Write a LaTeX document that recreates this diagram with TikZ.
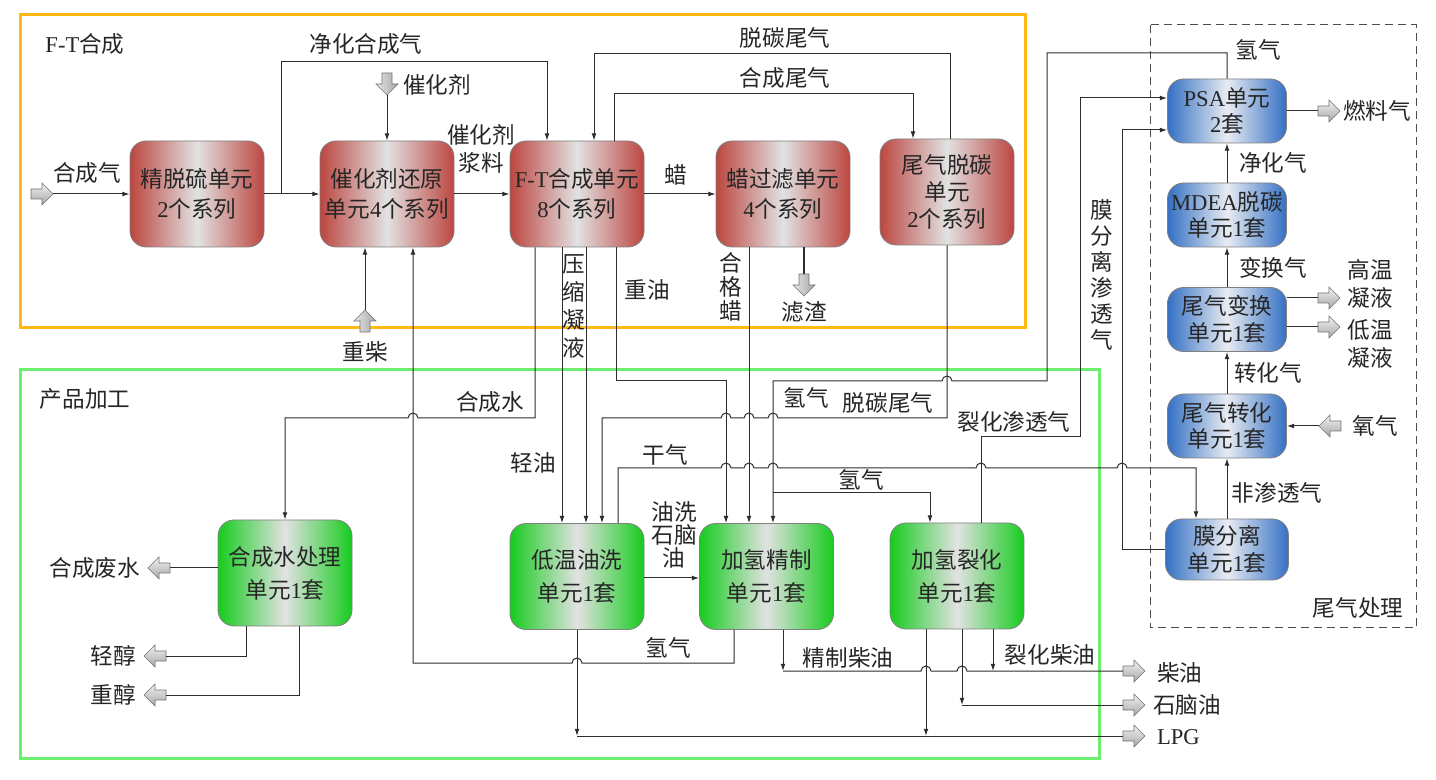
\documentclass[tikz,border=0pt]{standalone}
\usepackage{fontspec}
\setmainfont{Noto Sans CJK SC}
\newfontfamily\latfont{Liberation Serif}
\newcommand\rmlat[1]{{\latfont #1}}
\newcommand\mylab{\fontsize{11.3}{14}\selectfont}
\newcommand\myred{\fontsize{11.3}{15}\selectfont}
\newcommand\mygreen{\fontsize{11.3}{16.5}\selectfont}
\newcommand\myblue{\fontsize{11.3}{13.2}\selectfont}
\newcommand\mywtc{\fontsize{11.3}{13.5}\selectfont}
\newcommand\myvA{\fontsize{11.3}{14}\selectfont}
\newcommand\myvB{\fontsize{11.3}{12}\selectfont}
\newcommand\myvC{\fontsize{11.3}{13}\selectfont}
\newcommand\myvD{\fontsize{11.3}{11.5}\selectfont}
\usetikzlibrary{arrows.meta}
\definecolor{ftred}{RGB}{188,70,64}
\definecolor{ftgreen}{RGB}{22,204,30}
\definecolor{ftblue}{RGB}{52,112,196}
\definecolor{midgray}{RGB}{226,226,226}
\definecolor{bluemid}{RGB}{232,236,242}
\definecolor{frameorange}{RGB}{255,184,20}
\definecolor{framegreen}{RGB}{110,238,110}
\definecolor{linegray}{RGB}{45,45,45}
\begin{document}
\begin{tikzpicture}[x=0.5pt,y=-0.5pt,
  every node/.style={font=\mylab, text=black!85},
  ln/.style={draw=linegray, line width=0.5pt},
  arr/.style={ln, -{Latex[length=3.6pt,width=2.4pt]}},
  box/.style={rounded corners=8pt, draw=black!50, line width=0.4pt, align=center, inner sep=0pt},
  redbox/.style={box, left color=ftred, right color=ftred, middle color=midgray, minimum width=67pt, minimum height=53pt, font=\myred},
  greenbox/.style={box, left color=ftgreen, right color=ftgreen, middle color=midgray, minimum width=67pt, minimum height=53pt, font=\mygreen},
  bluebox/.style={box, left color=ftblue, right color=ftblue, middle color=bluemid, minimum width=59.5pt, minimum height=32pt, font=\myblue},
  fatdraw/.style={draw=black!55, line width=0.3pt},
  fatR/.pic={\shadedraw[fatdraw, top color=gray!10, bottom color=gray!70] (-11,-5) -- (0,-5) -- (0,-11) -- (11,0) -- (0,11) -- (0,5) -- (-11,5) -- cycle;},
  fatL/.pic={\shadedraw[fatdraw, top color=gray!10, bottom color=gray!70] (11,-5) -- (0,-5) -- (0,-11) -- (-11,0) -- (0,11) -- (0,5) -- (11,5) -- cycle;},
  fatD/.pic={\shadedraw[fatdraw, left color=gray!20, right color=gray!70] (-5,-11) -- (5,-11) -- (5,0) -- (11,0) -- (0,11) -- (-11,0) -- (-5,0) -- cycle;},
  fatU/.pic={\shadedraw[fatdraw, left color=gray!20, right color=gray!70] (-5,11) -- (5,11) -- (5,0) -- (11,0) -- (0,-11) -- (-11,0) -- (-5,0) -- cycle;}
]
\useasboundingbox (0,0) rectangle (1436,780);
\fill[white] (0,0) rectangle (1436,780);

% frames
\draw[draw=frameorange, line width=1.5pt] (20,15) rectangle (1025,328);
\draw[draw=framegreen, line width=1.5pt] (20,370) rectangle (1099,758);
\draw[draw=black!70, line width=0.5pt, dash pattern=on 4pt off 2.5pt] (1150,25) rectangle (1416,628);

% units
\node[redbox] (jtl) at (197,194) {精脱硫单元\\\rmlat{2}个系列};
\node[redbox] (chr) at (387,194) {催化剂还原\\单元\rmlat{4}个系列};
\node[redbox] (ftu) at (577,194) {\rmlat{F-T}合成单元\\\rmlat{8}个系列};
\node[redbox] (lgl) at (783,194) {蜡过滤单元\\\rmlat{4}个系列};
\node[redbox, font=\mywtc] (wtc) at (947,192) {尾气脱碳\\单元\\\rmlat{2}个系列};
\node[bluebox] (psa) at (1227,111) {\rmlat{PSA}单元\\\rmlat{2}套};
\node[bluebox] (mdea) at (1227,215) {\rmlat{MDEA}脱碳\\单元\rmlat{1}套};
\node[bluebox] (wbh) at (1227,319.5) {尾气变换\\单元\rmlat{1}套};
\node[bluebox] (wzh) at (1227,426) {尾气转化\\单元\rmlat{1}套};
\node[bluebox, minimum width=61.5pt, minimum height=30.5pt] (mfl) at (1227,549.5) {膜分离\\单元\rmlat{1}套};
\node[greenbox] (hcs) at (285,573) {合成水处理\\单元\rmlat{1}套};
\node[greenbox] (dwy) at (577,576.5) {低温油洗\\单元\rmlat{1}套};
\node[greenbox] (jqj) at (766.5,576.5) {加氢精制\\单元\rmlat{1}套};
\node[greenbox] (jql) at (957,576) {加氢裂化\\单元\rmlat{1}套};

% fat arrows and their ends
\pic at (42,194) {fatR};      \coordinate (sgin) at (53,194);
\pic at (387,84) {fatD};      \coordinate (catin) at (387,95);
\pic at (804,285) {fatD};     \coordinate (lzin) at (804,274);
\pic at (365,321) {fatU};     \coordinate (zcin) at (365,310);
\pic at (159,568) {fatL};     \coordinate (fswt) at (170,568);
\pic at (155,656) {fatL};     \coordinate (qcht) at (166,656);
\pic at (155,695) {fatL};     \coordinate (zcht) at (166,695);
\pic at (1134,671) {fatR};    \coordinate (cyR) at (1123,671);
\pic at (1134,705) {fatR};    \coordinate (snR) at (1123,705);
\pic at (1134,736) {fatR};    \coordinate (lpgR) at (1123,736);
\pic at (1329,111) {fatR};    \coordinate (rlqt) at (1318,111);
\pic at (1329,298) {fatR};    \coordinate (gwt) at (1318,298);
\pic at (1329,327) {fatR};    \coordinate (dwt) at (1318,327);
\pic at (1330,426) {fatL};    \coordinate (o2t) at (1319,426);

% F-T section connectors
\coordinate (jh) at (281,194);
\draw[arr] (sgin) -- (jtl.west);
\draw[arr] (jtl.east) -- (chr.west);
\draw[arr] (jh) |- (547,62) -- (ftu.north -| 547,0);
\draw[arr] (catin) -- (chr.north);
\draw[arr] (chr.east) -- (ftu.west);
\draw[arr] (ftu.east) -- (lgl.west);
\draw[arr] (wtc.north -| 950,0) |- (594,54) -- (ftu.north -| 594,0);
\draw[arr] (ftu.north -| 614,0) |- (913,94) -- (wtc.north -| 913,0);
\draw[draw=linegray, line width=1pt] (lgl.south -| 804,0) -- (lzin);
\draw[arr] (zcin) -- (chr.south -| 365,0);

% synthesis water
\draw[arr] (ftu.south -| 535,0) -- (535,418) -- (418,418) arc[start angle=0,end angle=-180,radius=5] -- (hcs.north |- 0,418) -- (hcs.north);
\draw[ln] (hcs.west |- 0,568) -- (fswt);
\draw[ln] (hcs.south -| 246,0) |- (qcht);
\draw[ln] (hcs.south -| 299,0) |- (zcht);

% hydrogen back to catalyst reduction
\draw[arr] (jqj.south -| 734,0) -- (734,663) -- (582,663) arc[start angle=0,end angle=-180,radius=5] -- (413,663) -- (chr.south -| 413,0);

% light oil, condensate, heavy oil, wax
\draw[arr] (ftu.south -| 562,0) -- (dwy.north -| 562,0);
\draw[arr] (ftu.south -| 586,0) -- (dwy.north -| 586,0);
\draw[arr] (ftu.south -| 616,0) |- (726,381) -- (jqj.north -| 726,0);
\draw[arr] (lgl.south -| 749,0) -- (jqj.north -| 749,0);

% hydrogen from PSA
\coordinate (h2br) at (773,493);
\draw[arr] (psa.north) |- (1047,53) -- (1047,381) -- (952,381) arc[start angle=0,end angle=-180,radius=5] -- (773,381) -- (jqj.north -| 773,0);
\draw[arr] (h2br) -| (jql.north -| 930,0);

% decarbonized tail gas to oil wash
\draw[arr] (wtc.south -| 947,0) -- (947,418) -- (778,418) arc[start angle=0,end angle=-180,radius=5] -- (754,418) arc[start angle=0,end angle=-180,radius=5] -- (731,418) arc[start angle=0,end angle=-180,radius=5] -- (602,418) -- (dwy.north -| 602,0);

% dry gas to membrane
\draw[arr] (dwy.north -| 618,0) -- (618,468) -- (721,468) arc[start angle=180,end angle=360,radius=5] -- (744,468) arc[start angle=180,end angle=360,radius=5] -- (768,468) arc[start angle=180,end angle=360,radius=5] -- (976,468) arc[start angle=180,end angle=360,radius=5] -- (1117,468) arc[start angle=180,end angle=360,radius=5] -- (1196,468) -- (mfl.north -| 1196,0);

% permeate gases to PSA
\draw[arr] (jql.north -| 981,0) -- (981,437) -- (1080,437) -- (1080,98) -- (psa.west |- 0,98);
\draw[arr] (mfl.west) -| (1122,130) -- (psa.west |- 0,130);

% oil wash naphtha
\draw[arr] (dwy.east |- 0,578) -- (jqj.west |- 0,578);

% products
\coordinate (lpgL) at (577,736);
\coordinate (snL) at (962,705);
\coordinate (cyL) at (783,671);
\draw[arr] (dwy.south) -- (lpgL);
\draw[ln] (lpgL) -- (lpgR);
\draw[arr] (jql.south -| 926,0) -- (926,736);
\draw[arr] (jql.south -| 962,0) -- (snL);
\draw[ln] (snL) -- (snR);
\draw[arr] (jqj.south -| 783,0) -- (cyL);
\draw[ln] (cyL) -- (921,671) arc[start angle=180,end angle=360,radius=5] -- (957,671) arc[start angle=180,end angle=360,radius=5] -- (cyR);
\draw[arr] (jql.south -| 993,0) -- (993,671);

% tail gas treatment
\draw[ln] (psa.east) -- (rlqt);
\draw[arr] (mdea.north) -- (psa.south);
\draw[arr] (wbh.north) -- (mdea.south);
\draw[arr] (wzh.north) -- (wbh.south);
\draw[arr] (mfl.north) -- (wzh.south);
\draw[ln] (wbh.east |- 0,298) -- (gwt);
\draw[ln] (wbh.east |- 0,327) -- (dwt);
\draw[arr] (o2t) -- (wzh.east);

% labels
\node (lFT) at (85,44) {\rmlat{F-T}合成};
\node (lJH) at (366,44) {净化合成气};
\node (lCat) at (437,85) {催化剂};
\node[align=center, font=\myvA] (lJL) at (481,149) {催化剂\\浆料};
\node (lSyn) at (87,173) {合成气};
\node (lLa) at (676,175) {蜡};
\node (lTT1) at (785,38) {脱碳尾气};
\node (lHW) at (785,78) {合成尾气};
\node (lZY) at (647,290) {重油};
\node[align=center, font=\myvA] (lYS) at (574,306) {压\\缩\\凝\\液};
\node[align=center, font=\myvB] (lHG) at (731,287) {合\\格\\蜡};
\node (lLZ) at (804,312) {滤渣};
\node (lZC) at (365,352) {重柴};
\node (lCP) at (85,399) {产品加工};
\node (lHS) at (490,402) {合成水};
\node (lH1) at (806,398) {氢气};
\node (lTT2) at (888,403) {脱碳尾气};
\node (lLH) at (1014,422) {裂化渗透气};
\node (lQY) at (533,463) {轻油};
\node (lGQ) at (665,455) {干气};
\node (lH2) at (861,480) {氢气};
\node[align=center, font=\myvD] (lYX) at (674,535) {油洗\\石脑\\油};
\node (lFS) at (95,568) {合成废水};
\node (lQC) at (113,656) {轻醇};
\node (lZCh) at (113,695) {重醇};
\node (lH3) at (668,648) {氢气};
\node (lJZ) at (848,658) {精制柴油};
\node (lLZC) at (1050,655) {裂化柴油};
\node[anchor=west] (lCY) at (1150,673) {柴油};
\node[anchor=west] (lSN) at (1146,705) {石脑油};
\node[anchor=west] (lLPG) at (1150,737) {\rmlat{LPG}};
\node (lH4) at (1258,50) {氢气};
\node (lRL) at (1377,111) {燃料气};
\node (lJQ) at (1273,163) {净化气};
\node (lBH) at (1273,268) {变换气};
\node[align=center, font=\myvA] (lGW) at (1370,284) {高温\\凝液};
\node[align=center, font=\myvA] (lDW) at (1370,344) {低温\\凝液};
\node (lZH) at (1268,373) {转化气};
\node (lO2) at (1375,426) {氧气};
\node (lFST) at (1277,493) {非渗透气};
\node (lWQ) at (1358,608) {尾气处理};
\node[align=center, font=\myvC] (lMF) at (1102,275) {膜\\分\\离\\渗\\透\\气};
\end{tikzpicture}
\end{document}
